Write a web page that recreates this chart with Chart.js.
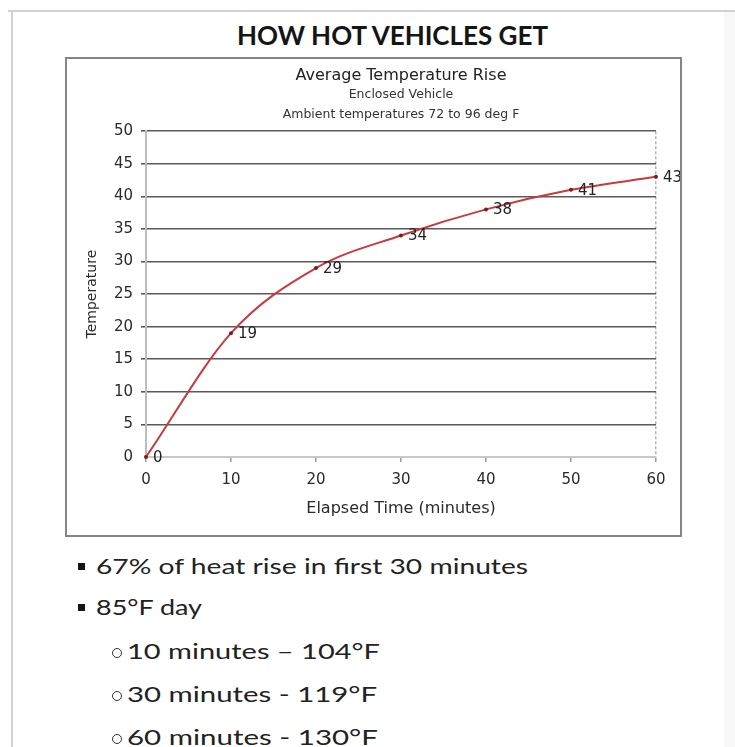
<!DOCTYPE html>
<html>
<head>
<meta charset="utf-8">
<script src="https://cdn.jsdelivr.net/npm/chart.js@4"></script>
<style>
html,body{margin:0;padding:0;background:#fff;}
body{width:735px;height:747px;position:relative;overflow:hidden;font-family:Lato,"Open Sans",sans-serif;color:#1c1c1c;}
.frameTop{position:absolute;left:8px;top:10px;width:727px;height:2px;background:#d2d2d2;}
.frameLeft{position:absolute;left:11px;top:10px;width:2px;height:737px;background:#d2d2d2;}
.rightStrip{position:absolute;left:724px;top:12px;width:11px;height:735px;background:#f8f8f8;}
#pageTitle{position:absolute;left:237px;top:19px;font-weight:700;font-size:26px;line-height:32px;white-space:nowrap;transform-origin:0 50%;color:#151515;}
#box{position:absolute;left:65px;top:57px;width:617px;height:480px;box-sizing:border-box;border:2px solid #858585;background:#fff;}
#wrap{position:relative;width:613px;height:476px;}
.fit{position:absolute;white-space:nowrap;font-size:22px;line-height:30px;transform-origin:0 50%;color:#222;}
.sq{position:absolute;width:7px;height:7px;background:#151515;}
.ci{position:absolute;width:8px;height:8px;border:1.5px solid #333;border-radius:50%;}
</style>
</head>
<body>
<div class="frameTop"></div>
<div class="frameLeft"></div>
<div class="rightStrip"></div>

<div id="pageTitle" data-w="311">HOW HOT VEHICLES GET</div>

<div id="box"><div id="wrap"><canvas id="heatChart"></canvas></div></div>

<div class="sq" style="left:78px;top:563px"></div>
<div class="fit" style="left:96px;top:551px" data-w="432">67% of heat rise in first 30 minutes</div>
<div class="sq" style="left:78px;top:604px"></div>
<div class="fit" style="left:96px;top:592px" data-w="106">85°F day</div>
<div class="ci" style="left:112px;top:648px"></div>
<div class="fit" style="left:127px;top:636px" data-w="253">10 minutes – 104°F</div>
<div class="ci" style="left:112px;top:691px"></div>
<div class="fit" style="left:127px;top:679px" data-w="250">30 minutes - 119°F</div>
<div class="ci" style="left:112px;top:734px"></div>
<div class="fit" style="left:127px;top:722px" data-w="251">60 minutes - 130°F</div>

<script>
// datos
const times=[0,10,20,30,40,50,60];
const temps=[0,19,29,34,38,41,43];
const chartTitle='Average Temperature Rise';
const chartSubtitle=['Enclosed Vehicle','Ambient temperatures 72 to 96 deg F'];
const xTitle='Elapsed Time (minutes)';
const yTitle='Temperature';

const FONT='"DejaVu Sans", "Liberation Sans", sans-serif';
const tc='#2a2a2a';

// etiquetas de valor a la derecha de cada punto
const pointLabels={id:'pointLabels',afterDatasetsDraw(chart){
  const ctx=chart.ctx, meta=chart.getDatasetMeta(0);
  ctx.save();
  ctx.font='15px '+FONT; ctx.fillStyle='#222'; ctx.textAlign='left'; ctx.textBaseline='middle';
  meta.data.forEach((pt,i)=>ctx.fillText(String(temps[i]),pt.x+7,pt.y+1));
  ctx.restore();
}};

new Chart(document.getElementById('heatChart').getContext('2d'),{
  type:'line',
  data:{datasets:[{
    label:'Temperature',
    data:times.map((t,i)=>({x:t,y:temps[i]})),
    borderColor:'#c83a3f',borderWidth:2,
    pointRadius:2,pointBackgroundColor:'#7a1c1c',pointBorderWidth:0,
    cubicInterpolationMode:'monotone',fill:false,clip:false
  }]},
  options:{responsive:true,maintainAspectRatio:false,animation:false,
    layout:{padding:{left:0,right:24,top:0,bottom:0}},
    plugins:{
      legend:{display:false},tooltip:{enabled:false},
      title:{display:true,text:chartTitle,fullSize:false,color:'#222',font:{family:FONT,size:16,weight:'normal'},padding:{top:7,bottom:0}},
      subtitle:{display:true,text:chartSubtitle,fullSize:false,color:'#333',font:{family:FONT,size:12.5,lineHeight:1.6},padding:{top:0,bottom:6}}
    },
    scales:{
      x:{type:'linear',min:0,max:60,
        ticks:{stepSize:10,color:tc,font:{family:FONT,size:15},padding:9},
        grid:{color:c=>c.tick&&c.tick.value===60?'#b4b4b4':'rgba(0,0,0,0)',tickColor:'#9a9a9a',tickLength:5,lineWidth:1.5},
        border:{color:'#c8c8c8',width:2,dash:[3,2]},
        title:{display:true,text:xTitle,color:tc,font:{family:FONT,size:16},padding:17},
        afterFit:s=>{s.height=78;}},
      y:{min:0,max:50,
        ticks:{stepSize:5,color:tc,font:{family:FONT,size:15},padding:8},
        grid:{color:c=>c.tick&&c.tick.value===0?'rgba(0,0,0,0)':'#5a5a5a',lineWidth:1.6,tickLength:5},
        border:{color:'#bdbdbd',width:2},
        title:{display:true,text:yTitle,color:tc,font:{family:FONT,size:14},padding:17},
        afterFit:s=>{s.width=79;}}
    }
  },
  plugins:[pointLabels]
});

// ajusta el ancho de los textos al de la imagen original
function fitText(){
  document.querySelectorAll('[data-w]').forEach(el=>{
    el.style.transform='none';
    const w=el.getBoundingClientRect().width;
    if(w>0) el.style.transform='scaleX('+(+el.dataset.w/w)+')';
  });
}
fitText();
if(document.fonts&&document.fonts.ready) document.fonts.ready.then(fitText);
</script>
</body>
</html>
